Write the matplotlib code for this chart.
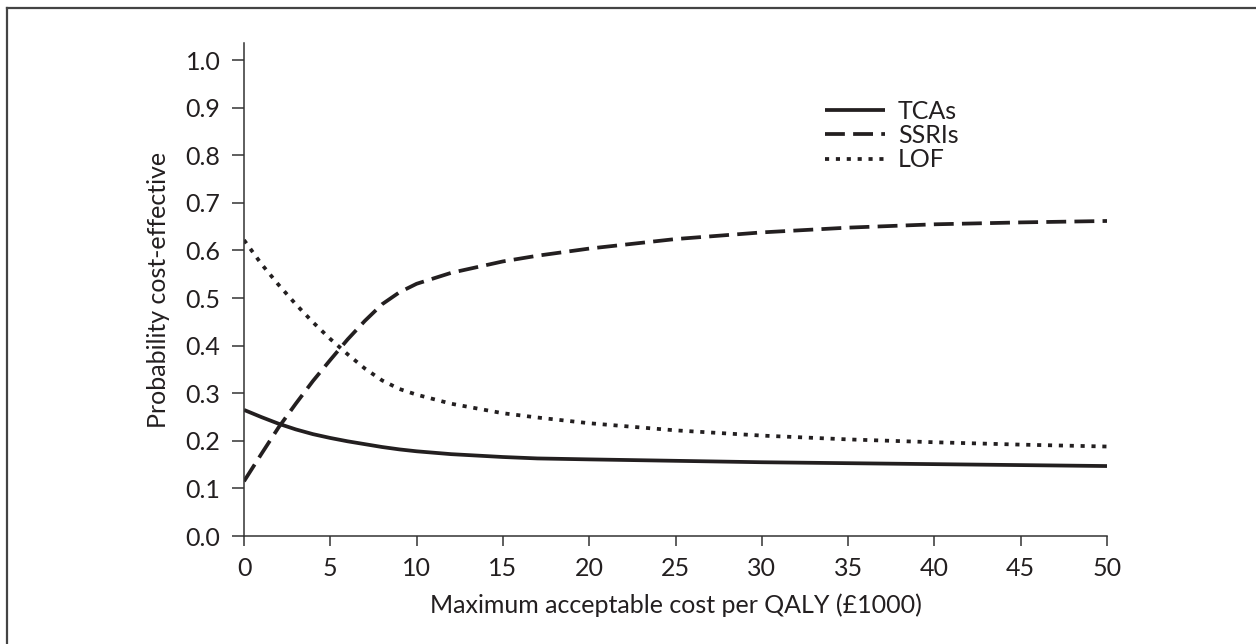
import matplotlib
matplotlib.use("Agg")
import matplotlib.pyplot as plt
from matplotlib.lines import Line2D
import numpy as np

plt.rcParams['font.family'] = ['Lato', 'DejaVu Sans']

wtp = [0, 1, 2, 3, 4, 5, 6, 7, 8, 9, 10, 12, 15, 17, 20, 25, 30, 35, 40, 45, 50]
tcas = [0.265, 0.250, 0.236, 0.224, 0.214, 0.206, 0.199, 0.193, 0.187, 0.182, 0.178, 0.172, 0.166, 0.163, 0.161, 0.158, 0.155, 0.153, 0.151, 0.149, 0.147]
ssris = [0.115, 0.172, 0.228, 0.278, 0.326, 0.370, 0.413, 0.452, 0.487, 0.512, 0.530, 0.553, 0.577, 0.589, 0.604, 0.624, 0.638, 0.648, 0.655, 0.659, 0.662]
lof = [0.622, 0.572, 0.528, 0.487, 0.449, 0.414, 0.382, 0.352, 0.327, 0.309, 0.297, 0.278, 0.258, 0.249, 0.237, 0.222, 0.211, 0.203, 0.197, 0.192, 0.188]

labels = ["TCAs", "SSRIs", "LOF"]
xticks = list(range(0, 51, 5))
yticks = [round(0.1 * i, 1) for i in range(11)]
ytick_labels = ["0.0", "0.1", "0.2", "0.3", "0.4", "0.5", "0.6", "0.7", "0.8", "0.9", "1.0"]

fig = plt.figure(figsize=(12.56, 6.44), dpi=100)
ax = fig.add_axes([244/1256, (644-536)/644, (1107-244)/1256, (536-43)/644])

col = '#231f20'
lw = 2.7
ax.plot(wtp, tcas, color=col, lw=lw, solid_capstyle='butt', label=labels[0])
ax.plot(wtp, ssris, color=col, lw=lw, dashes=(5.3, 2.2), label=labels[1])
ax.plot(wtp, lof, color=col, lw=lw, dashes=(1.1, 1.8), label=labels[2])

ax.set_xlim(0, 50)
ax.set_ylim(0, 1.036)
ax.spines['top'].set_visible(False)
ax.spines['right'].set_visible(False)
for s in ['left', 'bottom']:
    ax.spines[s].set_color('#333333')
    ax.spines[s].set_linewidth(1.1)
ax.spines['bottom'].set_bounds(0, 50)

ax.set_xticks(xticks)
ax.set_xticklabels([str(v) for v in xticks])
ax.set_yticks(yticks)
ax.set_yticklabels(ytick_labels)
ax.tick_params(axis='y', direction='out', length=9, width=1.1, color='#333333', pad=8, labelsize=18, labelcolor=col)
ax.tick_params(axis='x', direction='out', length=7, width=1.1, color='#333333', pad=8, labelsize=18, labelcolor=col)

ax.set_xlabel("Maximum acceptable cost per QALY (£1000)", fontsize=18, color=col, labelpad=10)
ax.set_ylabel("Probability cost-effective", fontsize=18, color=col, labelpad=11)

leg = ax.legend(loc='upper left', bbox_to_anchor=(0.662, 0.905), frameon=False, fontsize=18,
                handlelength=2.4, handletextpad=0.5, labelspacing=0.05, borderaxespad=0)
for t in leg.get_texts():
    t.set_color(col)

# outer frame (top and left edges)
fig.add_artist(Line2D([7/1256, 1.0], [1 - 8/644, 1 - 8/644], transform=fig.transFigure, color='#444444', lw=1.6))
fig.add_artist(Line2D([7/1256, 7/1256], [0, 1 - 8/644], transform=fig.transFigure, color='#444444', lw=1.6))

fig.savefig("out.png", dpi=100)
